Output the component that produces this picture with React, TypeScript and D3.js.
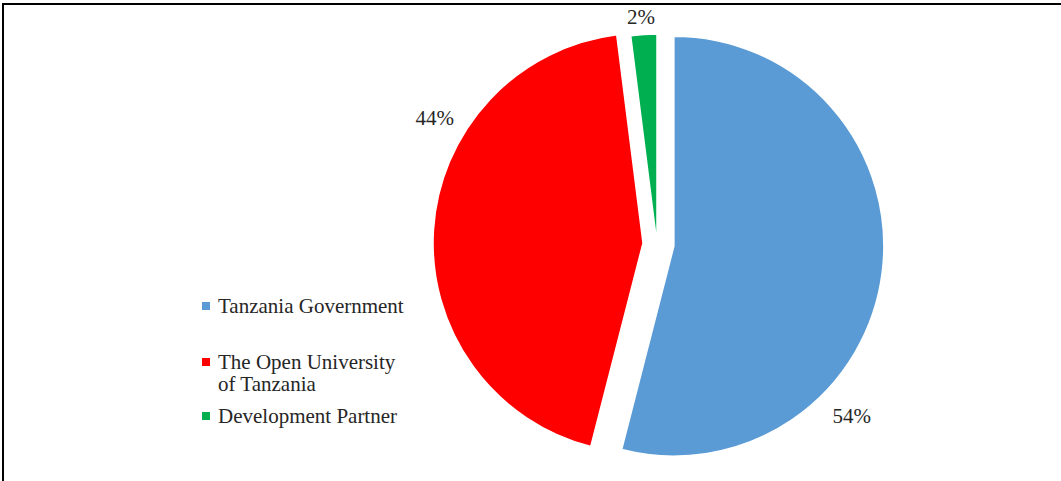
import React from "react";
import * as d3 from "d3";

const categories = ["Tanzania Government", "The Open University of Tanzania", "Development Partner"];
const values = [54, 44, 2];
const labels = ["54%", "44%", "2%"];
const legendLines = [["Tanzania Government"], ["The Open University", "of Tanzania"], ["Development Partner"]];
const colors = ["#5B9BD5", "#FF0000", "#00B050"];

const W = 1061;
const H = 481;
const CX = 657;
const CY = 244;
const R = 210;
const explode = [17, 14, 0];
// label placement: angle (deg, clockwise from 12 o'clock) and radius relative to slice center
const labelPlace = [
  { a: 133.7, r: 246 },
  { a: 301, r: 243 },
  { a: 356, r: 228 },
];
const legendY = [306, 362, 416];

export default function App() {
  const pie = d3.pie<number>().sort(null).value((d) => d);
  const arcs = pie(values);
  const arc = d3.arc<d3.PieArcDatum<number>>().innerRadius(0).outerRadius(R);
  const textStyle: React.CSSProperties = {
    fontFamily: '"Times New Roman", Times, "Liberation Serif", Tinos, "DejaVu Serif", serif',
    fontSize: "21px",
  };

  return (
    <div style={{ position: "fixed", left: 0, top: 0, width: W, height: H, background: "#fff" }}>
      <svg width={W} height={H} style={{ display: "block" }}>
        <rect x={0} y={0} width={W} height={H} fill="#fff" />
        <line x1={3} y1={4} x2={W} y2={4} stroke="#000" strokeWidth={2} />
        <line x1={3} y1={3} x2={3} y2={H} stroke="#000" strokeWidth={2} />
        {arcs.map((a, i) => {
          const mid = (a.startAngle + a.endAngle) / 2;
          const dx = Math.sin(mid) * explode[i];
          const dy = -Math.cos(mid) * explode[i];
          const sx = CX + dx;
          const sy = CY + dy;
          const la = (labelPlace[i].a * Math.PI) / 180;
          const lx = sx + Math.sin(la) * labelPlace[i].r;
          const ly = sy - Math.cos(la) * labelPlace[i].r;
          return (
            <g key={categories[i]}>
              <path
                d={arc(a) || ""}
                transform={`translate(${sx},${sy})`}
                fill={colors[i]}
                stroke="#fff"
                strokeWidth={1.5}
                strokeLinejoin="round"
              />
              <text x={lx} y={ly + 7} textAnchor="middle" style={textStyle} fill="#262626">
                {labels[i]}
              </text>
            </g>
          );
        })}
        {legendLines.map((lines, i) => (
          <g key={"lg" + i}>
            <rect x={202} y={legendY[i] - 4} width={8} height={8} fill={colors[i]} />
            {lines.map((t, j) => (
              <text key={j} x={218} y={legendY[i] + 7 + j * 22} style={textStyle} fill="#262626">
                {t}
              </text>
            ))}
          </g>
        ))}
      </svg>
    </div>
  );
}
